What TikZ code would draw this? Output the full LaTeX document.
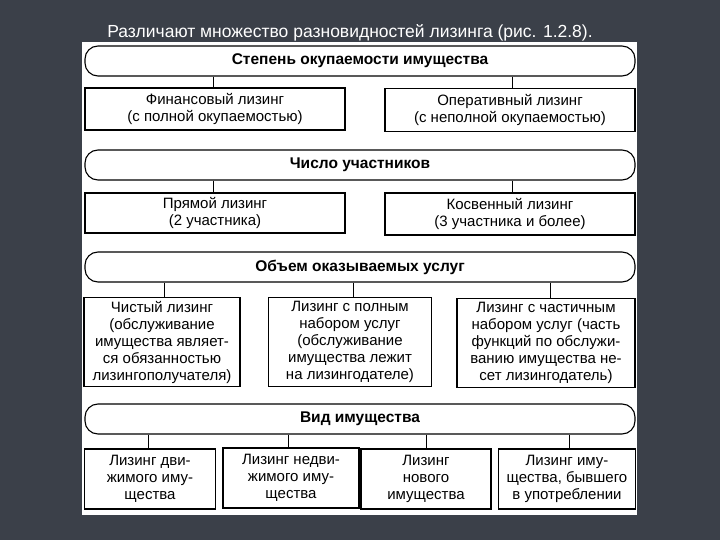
\documentclass[tikz,border=0pt]{standalone}
\usepackage{fontspec}
\setmainfont{Liberation Sans}
\begin{document}
\begin{tikzpicture}[x=1pt,y=-1pt,
  hdr/.style={draw=black,line width=1.1pt,rounded corners=13pt,fill=white,font=\bfseries\fontsize{15.5}{16}\selectfont},
  bx/.style={draw=black,line width=1.1pt,fill=white,align=center,font=\fontsize{15}{17}\selectfont,inner sep=1pt},
  ln/.style={line width=1pt}]
\definecolor{bgc}{HTML}{3B4049}
\fill[bgc] (0,0) rectangle (720,540);
\useasboundingbox (0,0) rectangle (720,540);
\node[text=white,font=\fontsize{17.5}{19}\selectfont] (title) at (350,33) {Различают множество разновидностей лизинга (рис. 1.2.8).};
\fill[white] (82,42) rectangle (637,515);
% headers
\node[hdr,minimum width=550pt,minimum height=30pt] (h1) at (360,61) {Степень окупаемости имущества};
\node[hdr,minimum width=550pt,minimum height=30pt] (h2) at (360,165) {Число участников};
\node[hdr,minimum width=550pt,minimum height=30pt] (h3) at (360,267) {Объем оказываемых услуг};
\node[hdr,minimum width=550pt,minimum height=30pt] (h4) at (360,419) {Вид имущества};
% row 1
\node[bx,minimum width=260pt,minimum height=42pt] (a1) at (215,109) {Финансовый лизинг\\(с полной окупаемостью)};
\node[bx,minimum width=250pt,minimum height=43pt] (a2) at (510,110) {Оперативный лизинг\\(с неполной окупаемостью)};
% row 2
\node[bx,minimum width=260pt,minimum height=40pt] (b1) at (215,213) {Прямой лизинг\\(2 участника)};
\node[bx,minimum width=250pt,minimum height=42pt] (b2) at (510,214) {Косвенный лизинг\\(3 участника и более)};
% row 3
\node[bx,minimum width=156pt,minimum height=89pt] (c1) at (162,342) {Чистый лизинг\\(обслуживание\\имущества являет-\\ся обязанностью\\лизингополучателя)};
\node[bx,minimum width=163pt,minimum height=89pt] (c2) at (350,342) {Лизинг с полным\\набором услуг\\(обслуживание\\имущества лежит\\на лизингодателе)};
\node[bx,minimum width=178pt,minimum height=89pt] (c3) at (546,343) {Лизинг с частичным\\набором услуг (часть\\функций по обслужи-\\ванию имущества не-\\сет лизингодатель)};
% row 4
\node[bx,minimum width=131pt,minimum height=60pt] (d1) at (150,479) {Лизинг дви-\\жимого иму-\\щества};
\node[bx,minimum width=136pt,minimum height=60pt] (d2) at (291,478) {Лизинг недви-\\жимого иму-\\щества};
\node[bx,minimum width=130pt,minimum height=60pt] (d3) at (426,479) {Лизинг\\нового\\имущества};
\node[bx,minimum width=137pt,minimum height=60pt] (d4) at (567,479) {Лизинг иму-\\щества, бывшего\\в употреблении};
% connectors
\draw[ln] (h1.south -| 213,0) -- (a1.north -| 213,0);
\draw[ln] (h1.south -| 512,0) -- (a2.north -| 512,0);
\draw[ln] (h2.south -| 213,0) -- (b1.north -| 213,0);
\draw[ln] (h2.south -| 512,0) -- (b2.north -| 512,0);
\draw[ln] (h3.south -| 164,0) -- (c1.north -| 164,0);
\draw[ln] (h3.south -| 353,0) -- (c2.north -| 353,0);
\draw[ln] (h3.south -| 550,0) -- (c3.north -| 550,0);
\draw[ln] (h4.south -| 148,0) -- (d1.north -| 148,0);
\draw[ln] (h4.south -| 288,0) -- (d2.north -| 288,0);
\draw[ln] (h4.south -| 426,0) -- (d3.north -| 426,0);
\draw[ln] (h4.south -| 569,0) -- (d4.north -| 569,0);
\end{tikzpicture}
\end{document}
